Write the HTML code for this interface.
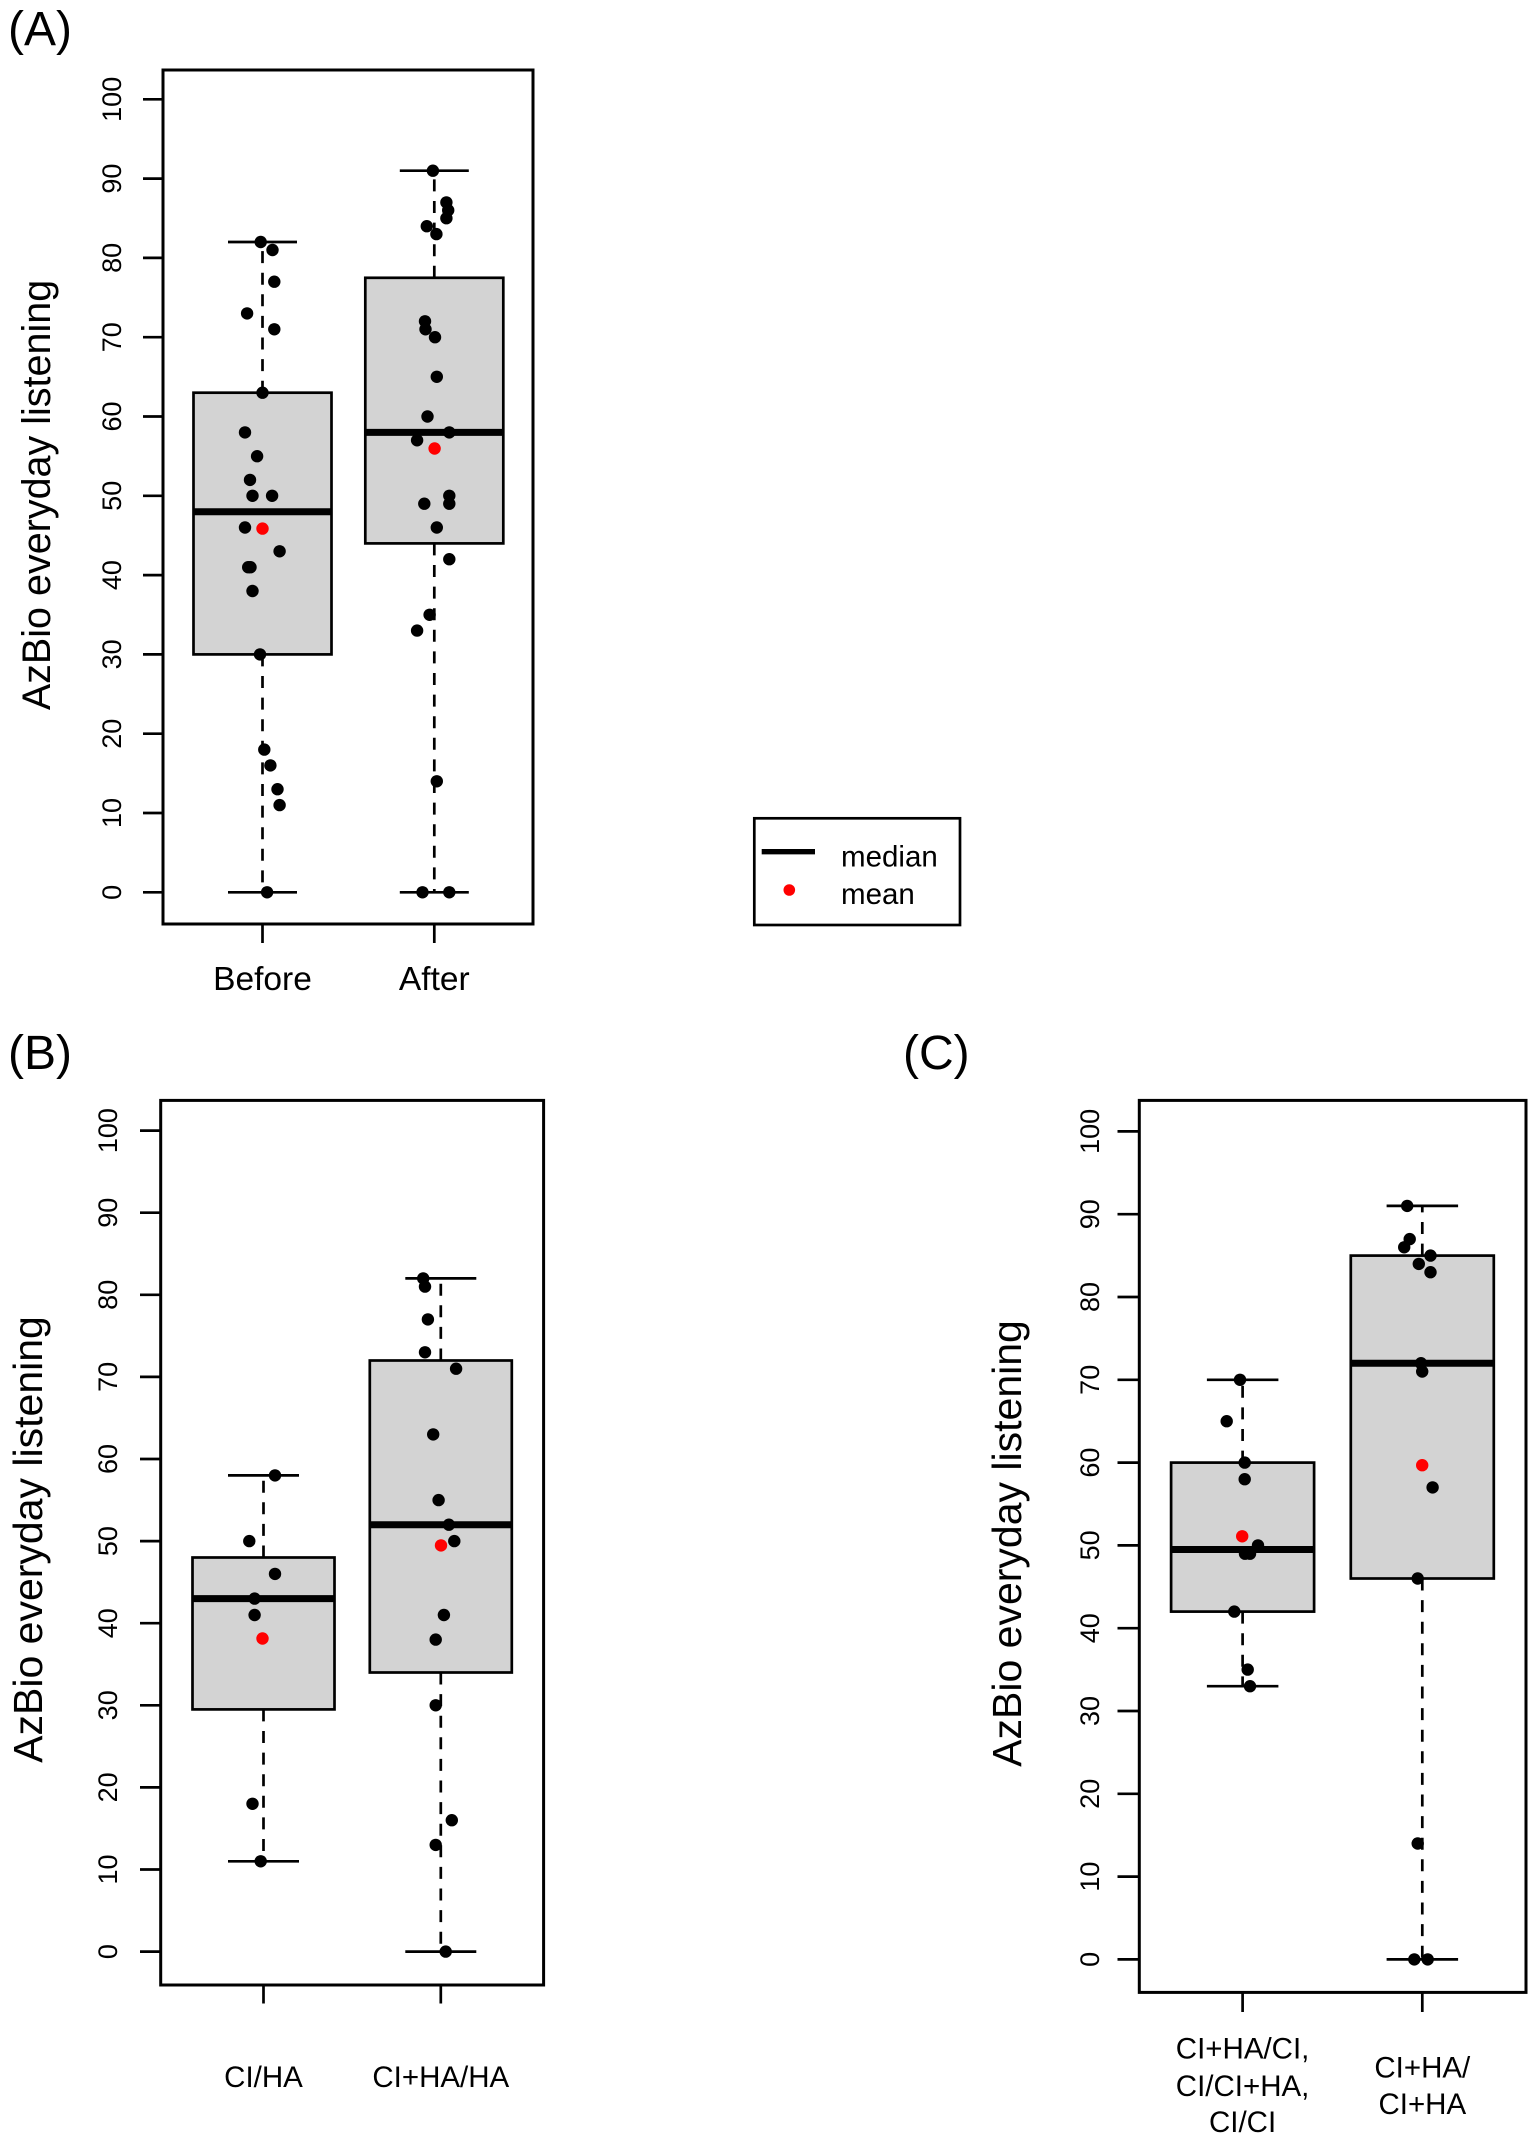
<!DOCTYPE html>
<html>
<head>
<meta charset="utf-8">
<style>
html,body{margin:0;padding:0;background:#fff;}
svg{display:block;}
text{font-family:"Liberation Sans",Arial,sans-serif;fill:#000;}
</style>
</head>
<body>
<svg width="1535" height="2142" viewBox="0 0 1535 2142" xmlns="http://www.w3.org/2000/svg">
<rect x="0" y="0" width="1535" height="2142" fill="#fff"/>

<!-- ================= PANEL A ================= -->
<text x="8" y="45" font-size="48">(A)</text>
<g stroke="#000" stroke-width="2.7">
  <line x1="262.5" y1="392.7" x2="262.5" y2="242.0" stroke-dasharray="12 9.6"/>
  <line x1="262.5" y1="654.4" x2="262.5" y2="892.3" stroke-dasharray="12 9.6"/>
  <line x1="228" y1="242.0" x2="297" y2="242.0"/>
  <line x1="228" y1="892.3" x2="297" y2="892.3"/>
  <rect x="193.5" y="392.7" width="138" height="261.7" fill="#d3d3d3"/>
  <line x1="193.5" y1="511.7" x2="331.5" y2="511.7" stroke-width="7"/>
  <line x1="434.3" y1="277.8" x2="434.3" y2="170.7" stroke-dasharray="12 9.6"/>
  <line x1="434.3" y1="543.4" x2="434.3" y2="892.3" stroke-dasharray="12 9.6"/>
  <line x1="399.8" y1="170.7" x2="468.8" y2="170.7"/>
  <line x1="399.8" y1="892.3" x2="468.8" y2="892.3"/>
  <rect x="365.3" y="277.8" width="138" height="265.6" fill="#d3d3d3"/>
  <line x1="365.3" y1="432.4" x2="503.3" y2="432.4" stroke-width="7"/>
</g>
<g fill="#000">
  <circle cx="260.7" cy="242.0" r="6.2"/>
  <circle cx="272.5" cy="250.0" r="6.2"/>
  <circle cx="274.3" cy="281.7" r="6.2"/>
  <circle cx="247.1" cy="313.4" r="6.2"/>
  <circle cx="274.3" cy="329.3" r="6.2"/>
  <circle cx="262.5" cy="392.7" r="6.2"/>
  <circle cx="245" cy="432.4" r="6.2"/>
  <circle cx="257.1" cy="456.2" r="6.2"/>
  <circle cx="250" cy="479.9" r="6.2"/>
  <circle cx="252.5" cy="495.8" r="6.2"/>
  <circle cx="272.1" cy="495.8" r="6.2"/>
  <circle cx="245" cy="527.5" r="6.2"/>
  <circle cx="279.6" cy="551.3" r="6.2"/>
  <circle cx="248.2" cy="567.2" r="6.2"/>
  <circle cx="250.5" cy="567.2" r="6.2"/>
  <circle cx="252.5" cy="591.0" r="6.2"/>
  <circle cx="260" cy="654.4" r="6.2"/>
  <circle cx="264.3" cy="749.6" r="6.2"/>
  <circle cx="270.4" cy="765.4" r="6.2"/>
  <circle cx="277.5" cy="789.2" r="6.2"/>
  <circle cx="279.6" cy="805.1" r="6.2"/>
  <circle cx="267.1" cy="892.3" r="6.2"/>
  <circle cx="432.9" cy="170.7" r="6.2"/>
  <circle cx="446.4" cy="202.4" r="6.2"/>
  <circle cx="448.2" cy="210.3" r="6.2"/>
  <circle cx="446.4" cy="218.2" r="6.2"/>
  <circle cx="426.8" cy="226.2" r="6.2"/>
  <circle cx="436.4" cy="234.1" r="6.2"/>
  <circle cx="425" cy="321.3" r="6.2"/>
  <circle cx="425.5" cy="329.3" r="6.2"/>
  <circle cx="435" cy="337.2" r="6.2"/>
  <circle cx="436.8" cy="376.8" r="6.2"/>
  <circle cx="427.5" cy="416.5" r="6.2"/>
  <circle cx="449.3" cy="432.4" r="6.2"/>
  <circle cx="417.1" cy="440.3" r="6.2"/>
  <circle cx="449.3" cy="495.8" r="6.2"/>
  <circle cx="449.3" cy="503.7" r="6.2"/>
  <circle cx="424.3" cy="503.7" r="6.2"/>
  <circle cx="436.8" cy="527.5" r="6.2"/>
  <circle cx="449.3" cy="559.2" r="6.2"/>
  <circle cx="429.6" cy="614.8" r="6.2"/>
  <circle cx="417.1" cy="630.6" r="6.2"/>
  <circle cx="436.8" cy="781.3" r="6.2"/>
  <circle cx="422.5" cy="892.3" r="6.2"/>
  <circle cx="449.3" cy="892.3" r="6.2"/>
</g>
<circle cx="262.5" cy="528.6" r="6.2" fill="#ff0000"/>
<circle cx="434.6" cy="448.5" r="6.2" fill="#ff0000"/>
<rect x="163" y="70" width="370" height="854" fill="none" stroke="#000" stroke-width="3"/>
<g stroke="#000" stroke-width="2.7">
  <line x1="143" y1="892.3" x2="163" y2="892.3"/>
  <line x1="143" y1="813.0" x2="163" y2="813.0"/>
  <line x1="143" y1="733.7" x2="163" y2="733.7"/>
  <line x1="143" y1="654.4" x2="163" y2="654.4"/>
  <line x1="143" y1="575.1" x2="163" y2="575.1"/>
  <line x1="143" y1="495.8" x2="163" y2="495.8"/>
  <line x1="143" y1="416.5" x2="163" y2="416.5"/>
  <line x1="143" y1="337.2" x2="163" y2="337.2"/>
  <line x1="143" y1="257.9" x2="163" y2="257.9"/>
  <line x1="143" y1="178.6" x2="163" y2="178.6"/>
  <line x1="143" y1="99.3" x2="163" y2="99.3"/>
  <line x1="262.5" y1="924" x2="262.5" y2="943"/>
  <line x1="434.3" y1="924" x2="434.3" y2="943"/>
</g>
<g font-size="27" text-anchor="middle">
  <text transform="translate(121,892.3) rotate(-90)">0</text>
  <text transform="translate(121,813.0) rotate(-90)">10</text>
  <text transform="translate(121,733.7) rotate(-90)">20</text>
  <text transform="translate(121,654.4) rotate(-90)">30</text>
  <text transform="translate(121,575.1) rotate(-90)">40</text>
  <text transform="translate(121,495.8) rotate(-90)">50</text>
  <text transform="translate(121,416.5) rotate(-90)">60</text>
  <text transform="translate(121,337.2) rotate(-90)">70</text>
  <text transform="translate(121,257.9) rotate(-90)">80</text>
  <text transform="translate(121,178.6) rotate(-90)">90</text>
  <text transform="translate(121,99.3) rotate(-90)">100</text>
</g>
<text transform="translate(50,495) rotate(-90)" font-size="39.5" text-anchor="middle">AzBio everyday listening</text>
<text x="262.5" y="990" font-size="33.5" text-anchor="middle">Before</text>
<text x="434.3" y="990" font-size="33.5" text-anchor="middle">After</text>

<!-- legend -->
<rect x="754.3" y="818.3" width="205.7" height="106.7" fill="none" stroke="#000" stroke-width="2.7"/>
<line x1="761.7" y1="851.7" x2="815" y2="851.7" stroke="#000" stroke-width="5.4"/>
<circle cx="789.3" cy="890" r="5.8" fill="#ff0000"/>
<text x="841" y="866.7" font-size="29.5">median</text>
<text x="841" y="904" font-size="29.5">mean</text>

<!-- ================= PANEL B ================= -->
<text x="8" y="1069" font-size="48">(B)</text>
<g stroke="#000" stroke-width="2.7">
  <line x1="263.5" y1="1557.5" x2="263.5" y2="1475.4" stroke-dasharray="12 9.6"/>
  <line x1="263.5" y1="1709.4" x2="263.5" y2="1861.3" stroke-dasharray="12 9.6"/>
  <line x1="228" y1="1475.4" x2="299" y2="1475.4"/>
  <line x1="228" y1="1861.3" x2="299" y2="1861.3"/>
  <rect x="192.5" y="1557.5" width="142" height="151.9" fill="#d3d3d3"/>
  <line x1="192.5" y1="1598.6" x2="334.5" y2="1598.6" stroke-width="7"/>
  <line x1="440.8" y1="1360.5" x2="440.8" y2="1278.4" stroke-dasharray="12 9.6"/>
  <line x1="440.8" y1="1672.5" x2="440.8" y2="1951.6" stroke-dasharray="12 9.6"/>
  <line x1="405.3" y1="1278.4" x2="476.3" y2="1278.4"/>
  <line x1="405.3" y1="1951.6" x2="476.3" y2="1951.6"/>
  <rect x="369.8" y="1360.5" width="142" height="312" fill="#d3d3d3"/>
  <line x1="369.8" y1="1524.7" x2="511.8" y2="1524.7" stroke-width="7"/>
</g>
<g fill="#000">
  <circle cx="275" cy="1475.4" r="6.2"/>
  <circle cx="249.3" cy="1541.1" r="6.2"/>
  <circle cx="275" cy="1573.9" r="6.2"/>
  <circle cx="254.6" cy="1598.6" r="6.2"/>
  <circle cx="254.6" cy="1615.0" r="6.2"/>
  <circle cx="252.5" cy="1803.8" r="6.2"/>
  <circle cx="260.7" cy="1861.3" r="6.2"/>
  <circle cx="423.2" cy="1278.4" r="6.2"/>
  <circle cx="425" cy="1286.6" r="6.2"/>
  <circle cx="427.9" cy="1319.4" r="6.2"/>
  <circle cx="425" cy="1352.3" r="6.2"/>
  <circle cx="456.1" cy="1368.7" r="6.2"/>
  <circle cx="433.2" cy="1434.4" r="6.2"/>
  <circle cx="438.6" cy="1500.1" r="6.2"/>
  <circle cx="448.9" cy="1524.7" r="6.2"/>
  <circle cx="454.3" cy="1541.1" r="6.2"/>
  <circle cx="443.9" cy="1615.0" r="6.2"/>
  <circle cx="435.7" cy="1639.6" r="6.2"/>
  <circle cx="435.7" cy="1705.3" r="6.2"/>
  <circle cx="451.8" cy="1820.2" r="6.2"/>
  <circle cx="435.7" cy="1844.9" r="6.2"/>
  <circle cx="445.7" cy="1951.6" r="6.2"/>
</g>
<circle cx="262.5" cy="1638.5" r="6.2" fill="#ff0000"/>
<circle cx="441" cy="1545.4" r="6.2" fill="#ff0000"/>
<rect x="160.7" y="1100.4" width="382.9" height="884.6" fill="none" stroke="#000" stroke-width="3"/>
<g stroke="#000" stroke-width="2.7">
  <line x1="140" y1="1951.6" x2="160.7" y2="1951.6"/>
  <line x1="140" y1="1869.5" x2="160.7" y2="1869.5"/>
  <line x1="140" y1="1787.4" x2="160.7" y2="1787.4"/>
  <line x1="140" y1="1705.3" x2="160.7" y2="1705.3"/>
  <line x1="140" y1="1623.2" x2="160.7" y2="1623.2"/>
  <line x1="140" y1="1541.1" x2="160.7" y2="1541.1"/>
  <line x1="140" y1="1459.0" x2="160.7" y2="1459.0"/>
  <line x1="140" y1="1376.9" x2="160.7" y2="1376.9"/>
  <line x1="140" y1="1294.8" x2="160.7" y2="1294.8"/>
  <line x1="140" y1="1212.7" x2="160.7" y2="1212.7"/>
  <line x1="140" y1="1130.6" x2="160.7" y2="1130.6"/>
  <line x1="263.5" y1="1985" x2="263.5" y2="2003.5"/>
  <line x1="440.8" y1="1985" x2="440.8" y2="2003.5"/>
</g>
<g font-size="27" text-anchor="middle">
  <text transform="translate(117,1951.6) rotate(-90)">0</text>
  <text transform="translate(117,1869.5) rotate(-90)">10</text>
  <text transform="translate(117,1787.4) rotate(-90)">20</text>
  <text transform="translate(117,1705.3) rotate(-90)">30</text>
  <text transform="translate(117,1623.2) rotate(-90)">40</text>
  <text transform="translate(117,1541.1) rotate(-90)">50</text>
  <text transform="translate(117,1459.0) rotate(-90)">60</text>
  <text transform="translate(117,1376.9) rotate(-90)">70</text>
  <text transform="translate(117,1294.8) rotate(-90)">80</text>
  <text transform="translate(117,1212.7) rotate(-90)">90</text>
  <text transform="translate(117,1130.6) rotate(-90)">100</text>
</g>
<text transform="translate(42,1539.5) rotate(-90)" font-size="41" text-anchor="middle">AzBio everyday listening</text>
<text x="263.5" y="2087" font-size="29.5" text-anchor="middle">CI/HA</text>
<text x="440.8" y="2087" font-size="29.5" text-anchor="middle">CI+HA/HA</text>

<!-- ================= PANEL C ================= -->
<text x="903" y="1069" font-size="48">(C)</text>
<g stroke="#000" stroke-width="2.7">
  <line x1="1242.6" y1="1462.6" x2="1242.6" y2="1379.8" stroke-dasharray="12 9.6"/>
  <line x1="1242.6" y1="1611.6" x2="1242.6" y2="1686.2" stroke-dasharray="12 9.6"/>
  <line x1="1206.9" y1="1379.8" x2="1278.4" y2="1379.8"/>
  <line x1="1206.9" y1="1686.2" x2="1278.4" y2="1686.2"/>
  <rect x="1171.1" y="1462.6" width="143" height="149" fill="#d3d3d3"/>
  <line x1="1171.1" y1="1549.5" x2="1314.1" y2="1549.5" stroke-width="7"/>
  <line x1="1422.3" y1="1255.6" x2="1422.3" y2="1205.9" stroke-dasharray="12 9.6"/>
  <line x1="1422.3" y1="1578.5" x2="1422.3" y2="1959.4" stroke-dasharray="12 9.6"/>
  <line x1="1386.6" y1="1205.9" x2="1458.1" y2="1205.9"/>
  <line x1="1386.6" y1="1959.4" x2="1458.1" y2="1959.4"/>
  <rect x="1350.8" y="1255.6" width="143" height="322.9" fill="#d3d3d3"/>
  <line x1="1350.8" y1="1363.2" x2="1493.8" y2="1363.2" stroke-width="7"/>
</g>
<g fill="#000">
  <circle cx="1240" cy="1379.8" r="6.2"/>
  <circle cx="1226.7" cy="1421.2" r="6.2"/>
  <circle cx="1244.7" cy="1462.6" r="6.2"/>
  <circle cx="1244.7" cy="1479.2" r="6.2"/>
  <circle cx="1258" cy="1545.4" r="6.2"/>
  <circle cx="1250" cy="1553.7" r="6.2"/>
  <circle cx="1245" cy="1553.7" r="6.2"/>
  <circle cx="1234.3" cy="1611.6" r="6.2"/>
  <circle cx="1247.7" cy="1669.6" r="6.2"/>
  <circle cx="1250" cy="1686.2" r="6.2"/>
  <circle cx="1407.2" cy="1205.9" r="6.2"/>
  <circle cx="1409.7" cy="1239.1" r="6.2"/>
  <circle cx="1404.2" cy="1247.3" r="6.2"/>
  <circle cx="1430.5" cy="1255.6" r="6.2"/>
  <circle cx="1418.8" cy="1263.9" r="6.2"/>
  <circle cx="1430.5" cy="1272.2" r="6.2"/>
  <circle cx="1421" cy="1363.2" r="6.2"/>
  <circle cx="1422.2" cy="1371.5" r="6.2"/>
  <circle cx="1432.6" cy="1487.4" r="6.2"/>
  <circle cx="1417.7" cy="1578.5" r="6.2"/>
  <circle cx="1417.7" cy="1843.5" r="6.2"/>
  <circle cx="1414.3" cy="1959.4" r="6.2"/>
  <circle cx="1427.7" cy="1959.4" r="6.2"/>
</g>
<circle cx="1242.2" cy="1536.3" r="6.2" fill="#ff0000"/>
<circle cx="1422.2" cy="1465.2" r="6.2" fill="#ff0000"/>
<rect x="1139.3" y="1100.4" width="386.7" height="892" fill="none" stroke="#000" stroke-width="3"/>
<g stroke="#000" stroke-width="2.7">
  <line x1="1117.5" y1="1959.4" x2="1139.3" y2="1959.4"/>
  <line x1="1117.5" y1="1876.6" x2="1139.3" y2="1876.6"/>
  <line x1="1117.5" y1="1793.8" x2="1139.3" y2="1793.8"/>
  <line x1="1117.5" y1="1711.0" x2="1139.3" y2="1711.0"/>
  <line x1="1117.5" y1="1628.2" x2="1139.3" y2="1628.2"/>
  <line x1="1117.5" y1="1545.4" x2="1139.3" y2="1545.4"/>
  <line x1="1117.5" y1="1462.6" x2="1139.3" y2="1462.6"/>
  <line x1="1117.5" y1="1379.8" x2="1139.3" y2="1379.8"/>
  <line x1="1117.5" y1="1297.0" x2="1139.3" y2="1297.0"/>
  <line x1="1117.5" y1="1214.2" x2="1139.3" y2="1214.2"/>
  <line x1="1117.5" y1="1131.4" x2="1139.3" y2="1131.4"/>
  <line x1="1242.6" y1="1992.4" x2="1242.6" y2="2012"/>
  <line x1="1422.3" y1="1992.4" x2="1422.3" y2="2012"/>
</g>
<g font-size="27" text-anchor="middle">
  <text transform="translate(1099,1959.4) rotate(-90)">0</text>
  <text transform="translate(1099,1876.6) rotate(-90)">10</text>
  <text transform="translate(1099,1793.8) rotate(-90)">20</text>
  <text transform="translate(1099,1711.0) rotate(-90)">30</text>
  <text transform="translate(1099,1628.2) rotate(-90)">40</text>
  <text transform="translate(1099,1545.4) rotate(-90)">50</text>
  <text transform="translate(1099,1462.6) rotate(-90)">60</text>
  <text transform="translate(1099,1379.8) rotate(-90)">70</text>
  <text transform="translate(1099,1297.0) rotate(-90)">80</text>
  <text transform="translate(1099,1214.2) rotate(-90)">90</text>
  <text transform="translate(1099,1131.4) rotate(-90)">100</text>
</g>
<text transform="translate(1021,1543.5) rotate(-90)" font-size="41" text-anchor="middle">AzBio everyday listening</text>
<g font-size="29.5" text-anchor="middle">
  <text x="1242.6" y="2058.5">CI+HA/CI,</text>
  <text x="1242.6" y="2096">CI/CI+HA,</text>
  <text x="1242.6" y="2132">CI/CI</text>
  <text x="1422.3" y="2077.5">CI+HA/</text>
  <text x="1422.3" y="2114">CI+HA</text>
</g>
</svg>
</body>
</html>
